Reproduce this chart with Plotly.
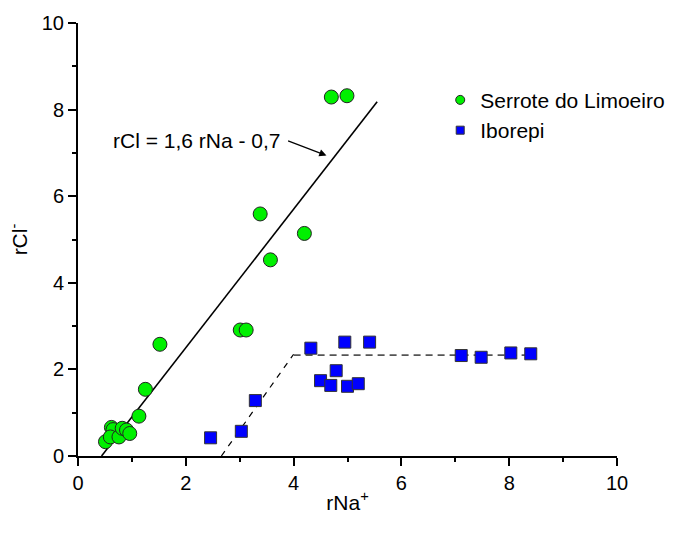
import plotly.graph_objects as go

# Serrote do Limoeiro (green circles)
sl_na = [0.51, 0.62, 0.65, 0.60, 0.76, 0.82, 0.90, 0.96, 1.13, 1.25, 1.52, 3.01, 3.12, 3.38, 3.57, 4.20, 4.70, 4.99]
sl_cl = [0.33, 0.66, 0.61, 0.44, 0.44, 0.64, 0.60, 0.52, 0.92, 1.54, 2.58, 2.91, 2.91, 5.59, 4.53, 5.14, 8.29, 8.32]

# Iborepi (blue squares)
ib_na = [2.46, 3.03, 3.29, 4.32, 4.95, 5.41, 4.79, 4.50, 4.69, 5.00, 5.20, 7.11, 7.48, 8.03, 8.40]
ib_cl = [0.42, 0.57, 1.28, 2.49, 2.63, 2.63, 1.97, 1.74, 1.63, 1.61, 1.67, 2.32, 2.28, 2.38, 2.36]

# regression line rCl = 1.6 rNa - 0.7
fit_na = [0.4375, 5.55]
fit_cl = [1.6 * v - 0.7 for v in fit_na]

# Iborepi trend (dashed)
slope_na = [2.66, 4.0]
slope_cl = [0.0, 2.35]
flat_na = [4.0, 8.5]
flat_cl = [2.33, 2.33]

x_ticks = [0, 2, 4, 6, 8, 10]
y_ticks = [0, 2, 4, 6, 8, 10]

FONT = "Liberation Sans, Arial, sans-serif"
GREEN = "rgb(0,240,0)"
BLUE = "rgb(0,0,255)"

fig = go.Figure()
fig.add_trace(go.Scatter(x=fit_na, y=fit_cl, mode="lines",
                         line=dict(color="black", width=1.6), showlegend=False))
fig.add_trace(go.Scatter(x=slope_na, y=slope_cl, mode="lines",
                         line=dict(color="black", width=1.2, dash="6px,6px"), showlegend=False))
fig.add_trace(go.Scatter(x=flat_na, y=flat_cl, mode="lines",
                         line=dict(color="#555555", width=1.8, dash="7px,5px"), showlegend=False))
fig.add_trace(go.Scatter(x=sl_na, y=sl_cl, mode="markers",
                         marker=dict(symbol="circle", size=14, color=GREEN,
                                     line=dict(color="#222222", width=1)),
                         showlegend=False))
fig.add_trace(go.Scatter(x=ib_na, y=ib_cl, mode="markers",
                         marker=dict(symbol="square", size=12, color=BLUE,
                                     line=dict(color="#333333", width=1)),
                         showlegend=False))
# legend entries
fig.add_trace(go.Scatter(x=[None], y=[None], mode="markers", name="Serrote do Limoeiro",
                         marker=dict(symbol="circle", size=9, color=GREEN,
                                     line=dict(color="#222222", width=1))))
fig.add_trace(go.Scatter(x=[None], y=[None], mode="markers", name="Iborepi",
                         marker=dict(symbol="square", size=8, color=BLUE,
                                     line=dict(color="#333333", width=1))))

fig.add_annotation(x=0.62, y=7.29, xref="x", yref="y", text="rCl = 1,6 rNa - 0,7",
                   showarrow=False, xanchor="left", yanchor="middle",
                   font=dict(family=FONT, size=21, color="black"))
fig.add_annotation(x=4.61, y=6.94, xref="x", yref="y", ax=3.87, ay=7.29,
                   axref="x", ayref="y", text="", showarrow=True,
                   arrowhead=2, arrowsize=1.2, arrowwidth=1.2, arrowcolor="black")

axis_common = dict(range=[0, 10], showgrid=False, zeroline=False, showline=True,
                   linecolor="black", linewidth=2, ticks="outside", ticklen=8,
                   tickwidth=2, tickcolor="black",
                   tickfont=dict(family=FONT, size=20, color="black"),
                   minor=dict(ticks="outside", ticklen=4, tickwidth=2, dtick=1,
                              tickcolor="black"))

fig.update_layout(
    width=682, height=542,
    margin=dict(l=78, r=61, t=20, b=86),
    plot_bgcolor="white", paper_bgcolor="white",
    font=dict(family=FONT, size=20, color="black"),
    xaxis=dict(**axis_common, tickvals=x_ticks, ticktext=[str(v) for v in x_ticks],
               title=dict(text="rNa<sup>+</sup>", font=dict(family=FONT, size=21), standoff=2)),
    yaxis=dict(**axis_common, tickvals=y_ticks, ticktext=[str(v) for v in y_ticks],
               title=dict(text="rCl<sup>-</sup>", font=dict(family=FONT, size=21), standoff=8)),
    legend=dict(x=0.672, y=0.787, xanchor="left", yanchor="middle",
                bgcolor="rgba(0,0,0,0)", font=dict(family=FONT, size=21),
                itemsizing="trace", tracegroupgap=0),
)

fig.write_html("out.html")
